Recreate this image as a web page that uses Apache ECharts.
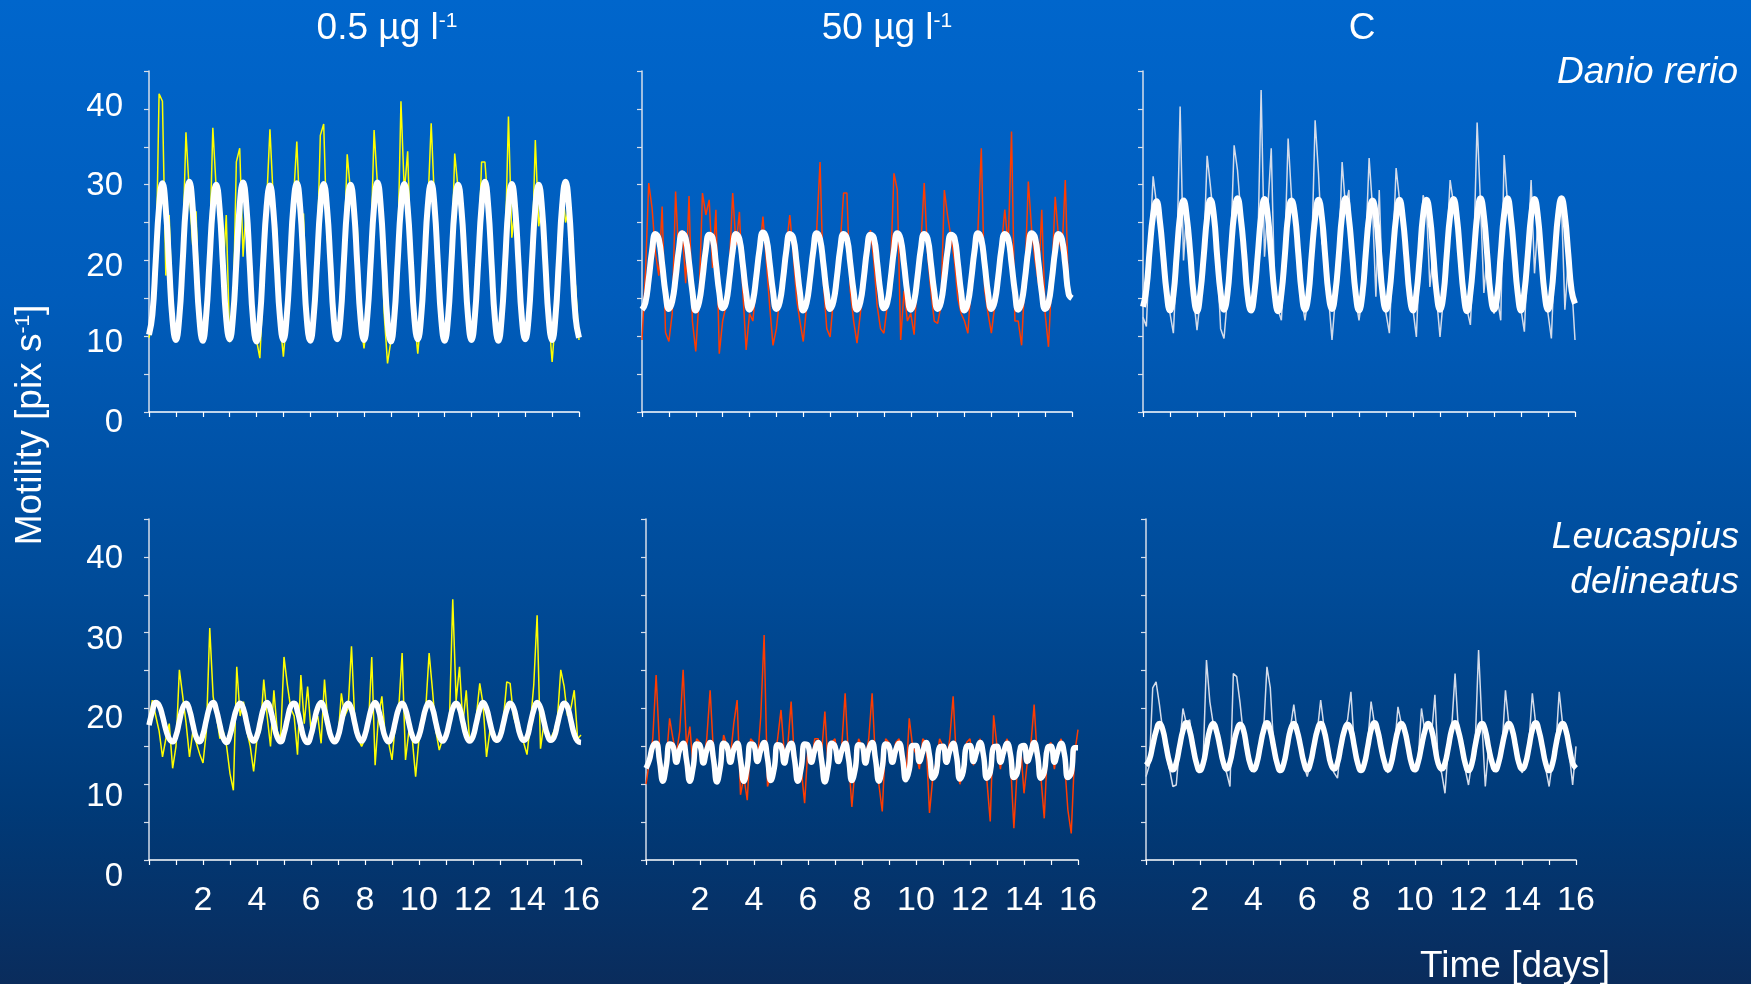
<!DOCTYPE html>
<html><head><meta charset="utf-8">
<script src="https://cdn.jsdelivr.net/npm/echarts@6/dist/echarts.min.js"></script>
<style>
html,body{margin:0;padding:0;overflow:hidden;}
#c{width:1751px;height:984px;background:linear-gradient(to bottom,#0066cc 0%,#005cbb 30%,#004b98 60%,#003a78 82%,#0a2c5c 100%);}
</style>
</head><body><div id="c"></div>
<script>
const SAMPLES_PER_DAY = 8;
const xTickLabels = [2, 4, 6, 8, 10, 12, 14, 16];
const yTickLabels = [0, 10, 20, 30, 40];
const columnTitles = ['0.5 µg l', '50 µg l', 'C'];
const speciesNames = [['Danio rerio'], ['Leucaspius', 'delineatus']];

// Danio rerio, 0.5 µg/l
const danio05Smooth = [
10.2,12.8,19.9,27.1,30.2,26.8,19.3,12.1,
9.5,12.4,19.6,27.3,30.4,27.0,19.6,12.3,
9.4,12.6,19.8,27.0,30.0,26.9,19.5,12.2,
9.6,12.5,19.7,27.2,30.3,27.1,19.4,12.0,
9.3,12.3,19.9,27.0,29.9,26.7,19.6,12.4,
9.5,12.6,19.8,27.3,30.2,27.0,19.5,12.1,
9.4,12.5,19.6,27.1,30.1,26.9,19.7,12.3,
9.6,12.4,19.8,27.0,30.0,26.8,19.4,12.2,
9.5,12.7,19.9,27.2,30.3,27.0,19.5,12.0,
9.3,12.4,19.7,27.1,30.1,26.9,19.6,12.3,
9.6,12.5,19.8,27.3,30.2,27.1,19.5,12.2,
9.4,12.3,19.6,27.0,30.0,26.8,19.7,12.4,
9.5,12.6,19.9,27.2,30.4,27.0,19.4,12.1,
9.4,12.5,19.7,27.1,30.1,26.9,19.6,12.3,
9.6,12.4,19.8,27.0,30.0,26.8,19.5,12.2,
9.5,12.6,19.9,27.3,30.4,27.1,19.6,12.4,
9.8];
const danio05Raw = [
9.8,11.5,17,42,41,18,26,13,
9.4,12.8,21,36.9,29,22,26.5,12.5,
9.6,13,20.5,37.5,29.5,25,18,26,
9.2,12,33,34.8,20.5,27.5,19.8,12.5,
9.5,7.1,17,27.5,37.3,28,24,12,
7.3,12.5,21,28,35.7,25,26.2,12.8,
9.3,12.2,20,36.5,38,23,19,12.5,
9.7,12.8,20.5,34,29,27.5,24.5,12,
8.4,12.5,21,37.2,30,26,13,6.4,
9.4,12.4,20,41,29,34.4,19.5,12.5,
7.7,12.6,20.5,27,38.1,27.5,19,12.3,
9.5,12.3,19,34.1,29.5,26.5,20,12.5,
9.3,12.8,20,33,33,27,22.7,12,
9.6,12.5,21,39,23,27,19.5,12.4,
9.5,12.3,20,35.9,24.5,27.5,19.3,12.5,
6.6,12.5,20.5,30,25,27,20,16.5,
9.5];

// Danio rerio, 50 µg/l
const danio50Smooth = [
13.5,14.4,17.5,21.3,23.5,22.8,19.5,15.7,
13.6,14.6,17.7,21.5,23.6,22.9,19.7,15.9,
13.4,14.5,17.6,21.4,23.4,23.0,19.6,15.8,
13.7,14.4,17.5,21.3,23.5,22.8,19.5,15.7,
13.5,14.6,17.8,21.5,23.7,22.9,19.6,15.9,
13.6,14.5,17.6,21.4,23.5,23.0,19.7,15.8,
13.4,14.4,17.5,21.3,23.6,22.8,19.5,15.7,
13.6,14.6,17.7,21.5,23.5,22.9,19.6,15.9,
13.5,14.5,17.6,21.4,23.4,23.0,19.7,15.8,
13.7,14.4,17.5,21.3,23.6,22.8,19.5,15.7,
13.5,14.6,17.8,21.5,23.5,22.9,19.6,15.9,
13.6,14.5,17.6,21.4,23.4,23.0,19.7,15.8,
13.4,14.4,17.5,21.3,23.6,22.8,19.5,15.7,
13.6,14.6,17.7,21.5,23.5,22.9,19.6,15.9,
13.5,14.5,17.6,21.4,23.6,23.0,19.7,15.8,
13.6,14.4,17.5,21.3,23.5,22.8,19.4,15.6,
15.0];
const danio50Raw = [
9.5,18,30.2,26.9,21,18,27.1,10.5,
9.3,13,29.1,20,24,17,28.5,12,
8,15,28.9,26,28,19,26.7,7.7,
12,14,19,28.9,22,26.4,16,8.2,
13,12,17,21,25.8,20,14,8.8,
11,15,19,22,26,21,15,12,
9.3,14,18,21,24,33,17,11,
9.9,15,19,22,28.9,28.9,16,12,
9.1,13,17,22,24,20,14,11,
10.4,14,19,31.5,29.3,9.5,16,12,
13,10.2,18,22,30.2,21,16,12,
11.7,14,29.3,25.8,23,20,15,13,
12,10.4,17,21,24,34.8,16,13,
10.4,14,18,22,26.7,22,37,12,
12,8.8,18,30.4,24,20,17,26.7,
13,8.6,18,28.4,23,21,30.6,15,
15.5];

// Danio rerio, control
const danioCSmooth = [
13.9,16.2,21.5,26.0,27.8,25.2,20.5,15.8,
13.4,15.4,20.8,25.9,27.9,25.6,20.9,15.5,
13.3,15.8,20.6,25.7,28.0,25.9,20.4,15.7,
13.5,15.5,20.9,26.1,28.2,25.5,20.8,15.4,
13.4,15.7,20.7,25.8,28.1,25.8,20.6,15.6,
13.3,15.6,20.5,25.9,27.9,26.0,21.0,15.8,
13.5,15.4,20.8,25.6,28.0,25.7,20.5,15.5,
13.6,15.8,20.6,26.0,28.2,25.6,20.7,15.7,
13.4,15.5,20.9,25.8,27.9,25.9,20.8,15.6,
13.5,15.7,20.7,25.7,28.0,25.5,20.6,15.4,
13.4,15.6,20.5,26.0,28.0,25.8,20.9,15.7,
13.5,15.4,20.8,25.9,28.1,25.7,20.5,15.6,
13.3,15.7,20.6,25.8,28.2,25.9,20.7,15.5,
13.5,15.5,20.9,26.1,28.2,25.6,20.8,15.8,
13.4,15.8,20.7,25.9,28.1,25.8,20.6,15.6,
13.5,15.6,20.8,26.0,28.2,25.9,20.9,16.0,
14.3];
const danioCRaw = [
12.5,11.3,22,31.1,27.5,24,19,15,
13,10.4,20,40.3,20,27,21,15,
10.8,15,21,33.8,29.7,25,20,11,
9.7,15,22,35.2,31.9,26,21,15,
13.5,15.5,21,42.5,20.5,27,34.8,16,
13.5,12.1,21,36.1,28.4,25,20,15,
12.1,15.5,21,38.5,31.5,22.3,21,15,
9.5,15,21,33,27,29.3,20,15,
12.1,15.5,22,33.5,27,15.2,29.3,15,
13,10.4,21,32.2,28,26,19.6,15,
13.5,9.9,21,28.6,27,16.5,21,15,
9.9,15,22,30.6,27.5,25,20,15,
13.5,11.5,21,38.2,27.5,15.7,21,15,
13,15,12.1,33.9,27.5,25,20,15,
13.5,10.6,21,30.6,18.3,25,20,15,
13,9.7,21,25,27.5,13.5,20,17,
9.5];

// Leucaspius delineatus, 0.5 µg/l
const leuc05Smooth = [
17.8,19.6,20.8,20.4,19.0,17.2,16.0,15.6,
16.4,18.3,20.1,20.7,19.8,17.9,16.2,15.6,
16.6,18.5,20.2,20.8,19.7,17.8,16.1,15.5,
16.5,18.4,20.0,20.7,19.9,18.0,16.3,15.7,
16.4,18.3,20.1,20.8,19.8,17.9,16.2,15.6,
16.7,18.6,20.3,20.7,19.6,17.7,16.0,15.5,
16.5,18.4,20.1,20.8,19.8,17.9,16.2,15.6,
16.3,18.2,20.0,20.7,19.9,18.0,16.3,15.7,
16.5,18.4,20.1,20.8,19.8,17.9,16.2,15.6,
16.4,18.3,20.0,20.7,19.9,18.1,16.4,15.7,
16.4,18.2,20.0,20.8,20.0,18.1,16.4,15.7,
16.4,18.2,20.0,20.7,20.0,18.2,16.4,15.7,
16.3,18.1,19.9,20.8,20.0,18.2,16.5,15.8,
16.3,18.0,19.8,20.7,20.1,18.3,16.5,15.8,
16.2,18.0,19.8,20.8,20.1,18.3,16.6,15.8,
16.2,17.9,19.7,20.7,20.2,18.4,16.6,15.7,
15.5];
const leuc05Raw = [
18.5,21.1,19,17,13.6,16,18,12.1,
15,25.1,21.6,18,13.6,17,15.5,14,
12.8,17,30.6,21.6,19,16,17,15,
11.4,9.2,25.5,19,20.9,17,15,11.7,
16,17,23.8,19,15,22.4,17,16,
26.8,23.1,20,19,13.9,24.4,18,22.9,
17,18,19,15.4,23.8,18,16,15.5,
16,22,19,20,28.2,18,16,15,
16,17.5,26.8,12.5,19,21.6,16.5,15.5,
13.2,18,20,27.3,13.2,17,16,11,
16,18,20,27.3,22.4,17,14.5,16,
16.5,18,34.4,21,25.5,18,22.4,15.5,
16,19,23.3,20.5,13.6,17,16,15.5,
17,18.5,23.5,23.3,19,17.5,16,15.5,
13.9,18,23.1,32.3,14.7,18,16.5,16,
17,18.5,25.1,22.9,19,20,22.4,16,
16.5];

// Leucaspius delineatus, 50 µg/l
const leuc50Smooth = [
12.1,13.2,15.0,15.4,13.1,10.4,12.4,15.3,
15.0,12.9,14.6,15.4,13.2,10.4,12.3,15.3,
15.1,12.8,14.5,15.5,13.3,10.3,12.2,15.4,
15.0,12.9,14.6,15.4,13.2,10.4,12.3,15.3,
15.1,13.0,14.5,15.5,13.4,10.5,12.1,15.2,
15.0,12.8,14.6,15.4,13.3,10.4,12.2,15.3,
15.1,12.9,14.5,15.5,13.2,10.3,12.3,15.4,
15.0,13.0,14.4,15.4,13.4,10.5,12.0,15.2,
15.1,12.8,14.6,15.5,13.3,10.4,12.2,15.3,
15.0,12.9,14.5,15.4,13.5,10.6,11.9,15.1,
15.1,13.0,14.3,15.5,13.8,10.8,11.6,14.9,
15.0,12.9,14.4,15.4,13.7,10.7,11.7,15.0,
15.1,13.0,14.3,15.5,13.8,10.8,11.6,14.9,
15.0,12.9,14.3,15.4,13.9,10.9,11.5,14.9,
15.1,13.0,14.2,15.5,13.8,10.8,11.6,14.8,
15.0,12.9,14.3,15.4,13.9,10.9,11.5,14.8,
14.8];
const leuc50Raw = [
10,13,16,24.4,15,11,13,18.7,
16,14,17,25.1,15,17.6,12,16,
15.5,13,16,22.4,14,10.5,12.5,16.5,
15,13.5,18,21.1,8.6,11,7.9,16,
15.5,13,18.9,29.7,9.7,11,13,16,
19.8,14,15,20.9,13,11,12,7.5,
15,13,16,16,14,19.6,12,15.5,
16,13,15,22,13.5,7,12.5,16,
15,13.5,16,22,13,10,6.4,16,
15.5,13,15.5,16,13,10.5,18.7,15,
14,12,16,15.5,6.2,11,13,16,
15,13,16,21.6,13,10,12,15.5,
16,12.5,15,16,13,10.5,5.1,19.1,
15,12,15,16,13,4.2,12,15,
8.8,13,15,20.5,13,11,5.5,15,
15.5,12,15,16,13,6.6,3.5,14,
17.2];

// Leucaspius delineatus, control
const leucCSmooth = [
12.5,13.2,15.1,17.0,18.0,17.2,15.0,12.9,
11.9,12.8,15.0,17.1,18.1,17.1,14.9,12.8,
11.8,12.7,14.9,17.2,18.0,17.0,15.0,12.9,
12.0,12.9,15.1,17.0,17.9,17.2,14.8,12.7,
11.9,12.8,15.0,17.1,18.1,17.1,14.9,12.8,
11.8,12.7,14.9,17.2,18.0,17.0,15.0,12.9,
11.9,12.9,15.1,17.1,18.0,17.1,14.9,12.7,
12.0,12.8,15.0,17.0,17.9,17.2,15.0,12.8,
11.8,12.7,14.9,17.2,18.1,17.0,14.8,12.9,
11.9,12.8,15.1,17.1,18.0,17.1,15.0,12.8,
11.9,12.9,15.0,17.0,18.0,17.2,14.9,12.7,
12.0,12.8,14.9,17.2,18.1,17.0,15.0,12.8,
11.8,12.7,15.1,17.1,18.0,17.1,14.8,12.9,
11.9,12.9,15.0,17.0,18.0,17.2,15.0,12.8,
12.0,12.8,14.9,17.2,18.1,17.0,14.9,12.7,
11.8,12.7,15.1,17.1,18.0,17.1,14.9,12.8,
12.1];
const leucCRaw = [
11,12.5,22.7,23.5,20.5,17,14,12,
9.7,9.9,15,20,18,18.5,14,12.5,
12,13,26.4,20.9,18,16.5,14.5,12.5,
11.5,9.7,24.6,24.2,20.7,16.5,14,12,
11.8,13,15.5,17,25.5,22.7,15,12.5,
12,13,15,17.5,20.5,17,14.5,12.5,
11,13,15.5,17,21.1,17.5,14.5,12.5,
11.5,10.8,15,17.5,18.5,22.2,15,12.5,
12,13,15.5,20.9,18,16.5,14.5,12.5,
11.5,13,15,20.2,18,17,14.5,12,
12,13,20,17,18,16.5,21.8,12.5,
11.5,8.8,15,17.5,24.6,17,14.5,12,
9.9,13,15.5,27.7,18,9.7,15,12.5,
12,13,15,22.4,18,17,14.5,12.5,
11.5,13,15.5,22,18,16.5,14.5,12,
9.7,13,15,22.2,18,16.5,14,9.9,
15];

const panels = [
  {smooth: danio05Smooth, raw: danio05Raw, color: '#ffff00', left: 149, top: 71, width: 430, row: 0, col: 0, lw: 6},
  {smooth: danio50Smooth, raw: danio50Raw, color: '#ff3c00', left: 642, top: 71, width: 430, row: 0, col: 1, lw: 6},
  {smooth: danioCSmooth, raw: danioCRaw, color: '#d4dcea', left: 1143, top: 71, width: 432, row: 0, col: 2, lw: 6},
  {smooth: leuc05Smooth, raw: leuc05Raw, color: '#ffff00', left: 149, top: 519, width: 432, row: 1, col: 0, lw: 5.5},
  {smooth: leuc50Smooth, raw: leuc50Raw, color: '#ff3c00', left: 646, top: 519, width: 432, row: 1, col: 1, lw: 5.5},
  {smooth: leucCSmooth, raw: leucCRaw, color: '#d4dcea', left: 1146, top: 519, width: 430, row: 1, col: 2, lw: 5.5}
];

const FONT = '"Liberation Sans", Arial, Helvetica, sans-serif';
const toPairs = arr => arr.map((v, i) => [i / SAMPLES_PER_DAY, v]);

// vertical nudges of the y tick labels, as in the original slide
const yLabelRich = [
  {t0: {padding: [21, 0, 0, 0]}, t10: {padding: [13, 0, 0, 0]}, t20: {padding: [12, 0, 0, 0]}, t30: {padding: [3, 0, 0, 0]}, t40: {padding: [0, 0, 3, 0]}},
  {t0: {padding: [34, 0, 0, 0]}, t10: {padding: [25, 0, 0, 0]}, t20: {padding: [20, 0, 0, 0]}, t30: {padding: [14, 0, 0, 0]}, t40: {padding: [4, 0, 0, 0]}}
];

const grids = [], xAxes = [], yAxes = [], series = [];
panels.forEach((p, i) => {
  grids.push({left: p.left, top: p.top, width: p.width, height: 341});
  xAxes.push({
    type: 'value', gridIndex: i, min: 0, max: 16, interval: 1,
    axisLine: {show: true, onZero: false, lineStyle: {color: '#ffffff', width: 1.5}},
    axisTick: {show: true, length: 5, lineStyle: {color: '#ffffff', width: 1.2}},
    splitLine: {show: false},
    axisLabel: {
      show: p.row === 1, color: '#ffffff', fontFamily: FONT, fontSize: 34, margin: 24,
      formatter: v => xTickLabels.includes(v) ? String(v) : ''
    }
  });
  yAxes.push({
    type: 'value', gridIndex: i, min: 0, max: 45, interval: 5,
    axisLine: {show: true, lineStyle: {color: '#d6deea', width: 1.5}},
    axisTick: {show: true, length: 5, lineStyle: {color: '#d6deea', width: 1.2}},
    splitLine: {show: false},
    axisLabel: {
      show: p.col === 0, color: '#ffffff', fontFamily: FONT, fontSize: 33, margin: 26,
      formatter: v => yTickLabels.includes(v) ? '{t' + v + '|' + v + '}' : '',
      rich: yLabelRich[p.row]
    }
  });
  series.push({
    type: 'line', xAxisIndex: i, yAxisIndex: i, data: toPairs(p.raw),
    showSymbol: false, symbol: 'none', lineStyle: {color: p.color, width: 1.5}, z: 2, silent: true
  });
  series.push({
    type: 'line', xAxisIndex: i, yAxisIndex: i, data: toPairs(p.smooth), smooth: 0.5,
    showSymbol: false, symbol: 'none', lineStyle: {color: '#ffffff', width: p.lw}, z: 3, silent: true
  });
});

const supRich = size => ({
  a: {fontSize: size, fontFamily: FONT, fill: '#ffffff', color: '#ffffff'},
  s: {fontSize: Math.round(size * 0.58), fontFamily: FONT, fill: '#ffffff', color: '#ffffff', verticalAlign: 'top'}
});

const titleX = [387, 887, 1362];
const graphics = [];
columnTitles.forEach((t, k) => {
  graphics.push({
    type: 'text', x: titleX[k], y: 29,
    style: {
      text: k < 2 ? '{a|' + t + '}{s|-1}' : '{a|' + t + '}',
      rich: supRich(37), textAlign: 'center', textVerticalAlign: 'middle', fill: '#ffffff'
    }
  });
});
graphics.push({type: 'text', x: 1738, y: 73, style: {text: speciesNames[0][0], font: 'italic 37px ' + FONT, fill: '#ffffff', textAlign: 'right', textVerticalAlign: 'middle'}});
graphics.push({type: 'text', x: 1739, y: 538, style: {text: speciesNames[1][0], font: 'italic 37px ' + FONT, fill: '#ffffff', textAlign: 'right', textVerticalAlign: 'middle'}});
graphics.push({type: 'text', x: 1739, y: 583, style: {text: speciesNames[1][1], font: 'italic 37px ' + FONT, fill: '#ffffff', textAlign: 'right', textVerticalAlign: 'middle'}});
graphics.push({type: 'text', x: 1515, y: 967, style: {text: 'Time [days]', font: '37px ' + FONT, fill: '#ffffff', textAlign: 'center', textVerticalAlign: 'middle'}});
graphics.push({
  type: 'text', x: 31, y: 425, rotation: Math.PI / 2,
  style: {text: '{a|Motility [pix s}{s|-1}{a|]}', rich: supRich(37), textAlign: 'center', textVerticalAlign: 'middle', fill: '#ffffff'}
});

const chart = echarts.init(document.getElementById('c'), null, {renderer: 'canvas'});
chart.setOption({
  backgroundColor: 'transparent',
  animation: false,
  grid: grids, xAxis: xAxes, yAxis: yAxes, series: series,
  graphic: graphics
});
</script>
</body></html>
